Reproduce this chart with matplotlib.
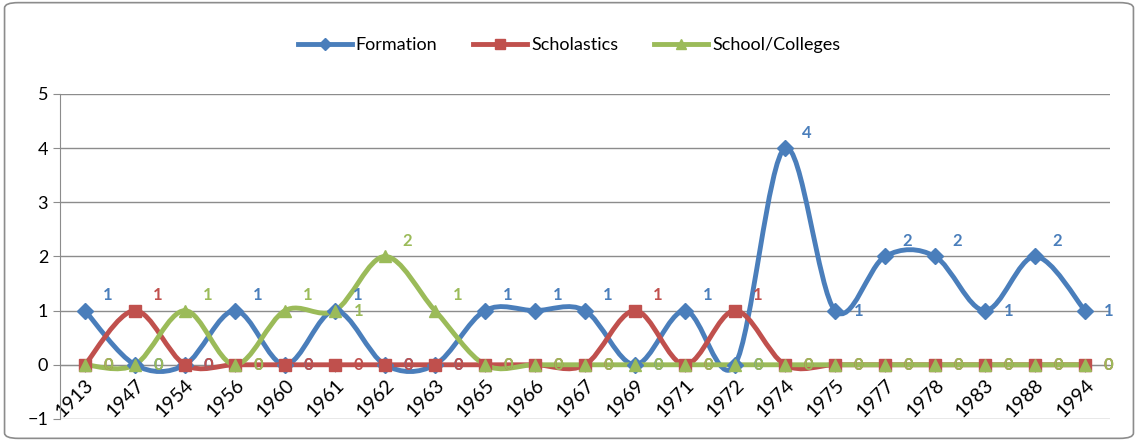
import numpy as np
import matplotlib
matplotlib.use('Agg')
import matplotlib.pyplot as plt
from matplotlib.path import Path
from matplotlib.patches import PathPatch, FancyBboxPatch
from matplotlib.lines import Line2D

plt.rcParams['font.family'] = ['Lato', 'DejaVu Sans']

years = ['1913', '1947', '1954', '1956', '1960', '1961', '1962', '1963', '1965', '1966', '1967',
         '1969', '1971', '1972', '1974', '1975', '1977', '1978', '1983', '1988', '1994']
formation = [1, 0, 0, 1, 0, 1, 0, 0, 1, 1, 1, 0, 1, 0, 4, 1, 2, 2, 1, 2, 1]
scholastics = [0, 1, 0, 0, 0, 0, 0, 0, 0, 0, 0, 1, 0, 1, 0, 0, 0, 0, 0, 0, 0]
schools = [0, 0, 1, 0, 1, 1, 2, 1, 0, 0, 0, 0, 0, 0, 0, 0, 0, 0, 0, 0, 0]

series = [('Formation', formation, '#4A7EBB', 'D', 8),
          ('Scholastics', scholastics, '#C0504D', 's', 9),
          ('School/Colleges', schools, '#9BBB59', '^', 9)]


def smooth_path(x, y):
    # cubic bezier smoothing like excel's "smoothed line"
    verts = [(x[0], y[0])]
    codes = [Path.MOVETO]
    n = len(x)
    for i in range(n - 1):
        x0, y0 = (x[i - 1], y[i - 1]) if i > 0 else (x[i], y[i])
        x3, y3 = (x[i + 2], y[i + 2]) if i + 2 < n else (x[i + 1], y[i + 1])
        c1 = (x[i] + (x[i + 1] - x0) / 6, y[i] + (y[i + 1] - y0) / 6)
        c2 = (x[i + 1] - (x3 - x[i]) / 6, y[i + 1] - (y3 - y[i]) / 6)
        verts += [c1, c2, (x[i + 1], y[i + 1])]
        codes += [Path.CURVE4] * 3
    return Path(verts, codes)


fig = plt.figure(figsize=(11.38, 4.41), dpi=100)
fig.patches.append(FancyBboxPatch((0.004, 0.006), 0.992, 0.988, boxstyle='round,pad=0,rounding_size=0.012',
                                  transform=fig.transFigure, fill=False, edgecolor='#8c8c8c', linewidth=1.2))
ax = fig.add_axes([0.0527, 0.05, 0.9227, 0.737])
ax.spines['bottom'].set_position(('data', 0))

xs = np.arange(len(years))
for name, vals, col, mk, ms in series:
    ax.add_patch(PathPatch(smooth_path(xs, vals), fill=False, edgecolor=col, linewidth=3.5, zorder=3))
    ax.plot(xs, vals, linestyle='none', marker=mk, markersize=ms, color=col, zorder=4)
    for i, v in enumerate(vals):
        prev_v = vals[i - 1] if i > 0 else v
        next_v = vals[i + 1] if i + 1 < len(vals) else v
        if v == 0 or (v < prev_v and v <= next_v) or (v <= prev_v and v < next_v) or (v == prev_v and v < next_v):
            dx, dy = 17, 0
        else:
            dx, dy = 16, 11
        ax.annotate(str(v), (i, v), xytext=(dx, dy), textcoords='offset points', color=col,
                    fontsize=12, fontweight='bold', ha='center', va='center', zorder=5)

ax.set_xlim(-0.5, len(years) - 0.5)
ax.set_ylim(-1, 5)
ax.set_yticks(range(-1, 6))
ax.yaxis.grid(True, color='#8c8c8c', linewidth=1)
ax.set_axisbelow(True)
ax.spines['bottom'].set_color('#8c8c8c')
ax.spines['left'].set_color('#8c8c8c')
ax.spines['top'].set_visible(False)
ax.spines['right'].set_visible(False)
ax.tick_params(axis='x', length=5, color='#8c8c8c', pad=3)
ax.tick_params(axis='y', length=5, color='#8c8c8c', labelsize=13)
ax.set_xticks(xs)
ax.set_xticklabels(years, rotation=45, ha='right', va='top', rotation_mode='anchor', fontsize=14)

handles = [Line2D([], [], color=col, marker=mk, markersize=ms - 2, linewidth=3.5, label=name)
           for name, vals, col, mk, ms in series]
fig.legend(handles=handles, loc='center', bbox_to_anchor=(0.5, 0.898), ncol=3, frameon=False,
           fontsize=13, handlelength=3, handletextpad=0.2, columnspacing=2)

plt.savefig('out.png', dpi=100)
plt.close()
